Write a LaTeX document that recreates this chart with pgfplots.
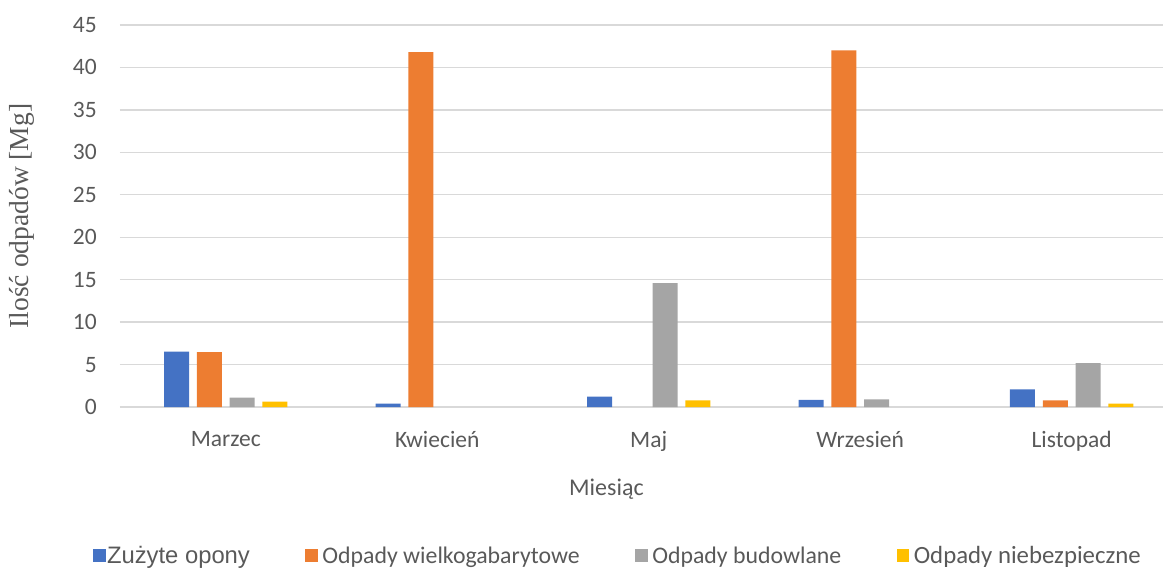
\documentclass[border=0pt]{standalone}
\usepackage{pgfplots}
\pgfplotsset{compat=1.18}
\usepackage{fontspec}
\setmainfont{Carlito}
\newfontfamily\arialfont{Liberation Sans}
\newfontfamily\timesfont{Liberation Serif}
\definecolor{cblue}{HTML}{4472C4}
\definecolor{corange}{HTML}{ED7D31}
\definecolor{cgray}{HTML}{A5A5A5}
\definecolor{cyellow}{HTML}{FFC000}
\definecolor{txt}{HTML}{595959}
\definecolor{gridc}{HTML}{D9D9D9}
\begin{document}
\begin{tikzpicture}[x=1pt,y=1pt]
\useasboundingbox (-120,-161) rectangle (1043,407);
\begin{axis}[
  at={(0,0)}, anchor=south west,
  scale only axis,
  width=1057.5pt, height=382pt,
  xmin=-0.5, xmax=4.5, ymin=0, ymax=45,
  ybar=7.8pt, bar width=25pt,
  axis x line=bottom, axis y line=left,
  y axis line style={draw=none},
  x axis line style={draw=gridc, line width=1.3pt, -},
  ymajorgrids, grid style={draw=gridc, line width=1.3pt},
  major tick length=0pt,
  ytick={0,5,...,45},
  xtick={0,1,2,3,4},
  xticklabels={Marzec,Kwiecień,Maj,Wrzesień,Listopad},
  tick label style={font=\fontsize{23.5}{28}\selectfont, text=txt},
  every x tick label/.style={anchor=north, inner sep=0pt, yshift=-24pt},
  every y tick label/.style={anchor=east, inner sep=0pt, xshift=-23pt},
  /pgf/number format/assume math mode=true,
  xlabel={Miesiąc},
  every axis x label/.style={at={(rel axis cs:0.46,0)}, yshift=-82pt, anchor=center, font=\fontsize{24}{28}\selectfont, text=txt},
  ylabel={Ilość odpadów [Mg]},
  every axis y label/.style={at={(rel axis cs:0,0.5)}, xshift=-98pt, rotate=90, anchor=center, font=\timesfont\fontsize{27.5}{32}\selectfont, text=txt},
  legend columns=4,
  legend style={draw=none, fill=none, at={(rel axis cs:-0.0255,-0.39)}, anchor=west,
    font=\fontsize{23.8}{28}\selectfont, text=txt,
    /tikz/every even column/.append style={column sep=54pt},
    nodes={inner sep=1.5pt}, inner sep=0pt, outer sep=0pt},
  legend image code/.code={\fill[#1] (0pt,-6.5pt) rectangle (12.5pt,6.5pt);},
]
\addplot[fill=cblue, draw=none] coordinates {(0,6.53) (1,0.39) (2,1.22) (3,0.83) (4,2.09)};
\addplot[fill=corange, draw=none] coordinates {(0,6.45) (1,41.8) (3,42.0) (4,0.79)};
\addplot[fill=cgray, draw=none] coordinates {(0,1.1) (2,14.6) (3,0.91) (4,5.16)};
\addplot[fill=cyellow, draw=none] coordinates {(0,0.63) (2,0.79) (4,0.39)};
\addlegendentry{\arialfont Zużyte opony}
\addlegendentry{\hspace{3pt}Odpady wielkogabarytowe}
\addlegendentry{\hspace{3pt}Odpady budowlane}
\addlegendentry{\hspace{3pt}\fontsize{24.8}{28}\selectfont Odpady niebezpieczne}
\end{axis}
\end{tikzpicture}
\end{document}
